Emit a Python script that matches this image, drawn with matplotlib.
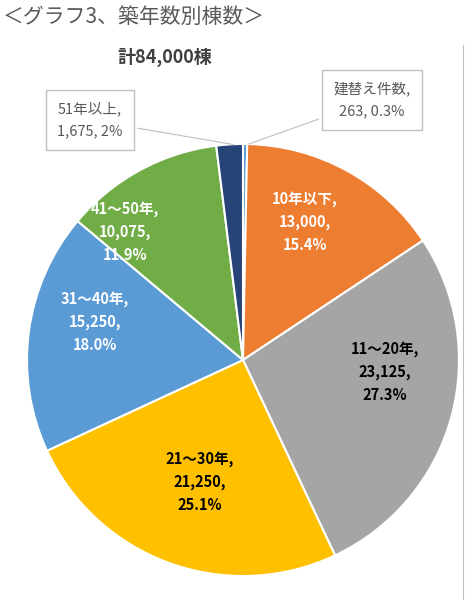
import matplotlib
matplotlib.use("Agg")
import matplotlib.pyplot as plt

plt.rcParams['font.family'] = ['Noto Sans CJK JP', 'DejaVu Sans']

categories = ["建替え件数", "10年以下", "11～20年", "21～30年", "31～40年", "41～50年", "51年以上"]
values = [263, 13000, 23125, 21250, 15250, 10075, 1675]
pcts = ["0.3%", "15.4%", "27.3%", "25.1%", "18.0%", "11.9%", "2%"]
colors = ["#5B9BD5", "#ED7D31", "#A5A5A5", "#FFC000", "#5B9BD5", "#70AD47", "#264478"]

fig = plt.figure(figsize=(4.76, 6), dpi=100)
ax = fig.add_axes([27/476, 24/600, 432/476, 432/600])
ax.pie(values, colors=colors, startangle=90, counterclock=False,
       wedgeprops=dict(edgecolor="white", linewidth=1.5))
ax.set_xlim(-1, 1); ax.set_ylim(-1, 1); ax.set_aspect('equal')

def P(px, py):
    return ((px - 243) / 216, (360 - py) / 216)

inside = {1: ((305, 222), "white"), 2: ((385, 372), "black"), 3: ((200, 482), "black"),
          4: ((95, 322), "white"), 5: ((125, 232), "white")}
for i, ((px, py), c) in inside.items():
    ax.text(*P(px, py), f"{categories[i]},\n{values[i]:,},\n{pcts[i]}", ha="center", va="center",
            fontsize=10.5, fontweight="bold", color=c, linespacing=1.55, clip_on=False)

for i, (px, py), anchor in [(0, (372, 100), (246, 145)), (6, (90, 120), (236, 145))]:
    ax.annotate(f"{categories[i]},\n{values[i]:,}, {pcts[i]}", xy=P(*anchor), xytext=P(px, py),
                ha="center", va="center", fontsize=10.5, color="#595959", linespacing=1.7,
                bbox=dict(boxstyle="square,pad=0.8", fc="white", ec="#BFBFBF"),
                arrowprops=dict(arrowstyle="-", color="#BFBFBF", lw=0.8), annotation_clip=False)

fig.text(3/476, 1 - 17/600, "＜グラフ3、築年数別棟数＞", fontsize=15, color="#595959", va="center")
fig.text(165/476, 1 - 57/600, "計84,000棟", fontsize=13, fontweight="bold", color="#404040",
         va="center", ha="center")
fig.add_artist(plt.Line2D([463/476, 463/476], [0, 1 - 45/600], color="#BFBFBF", lw=0.8))
fig.savefig("out.png", dpi=100)
